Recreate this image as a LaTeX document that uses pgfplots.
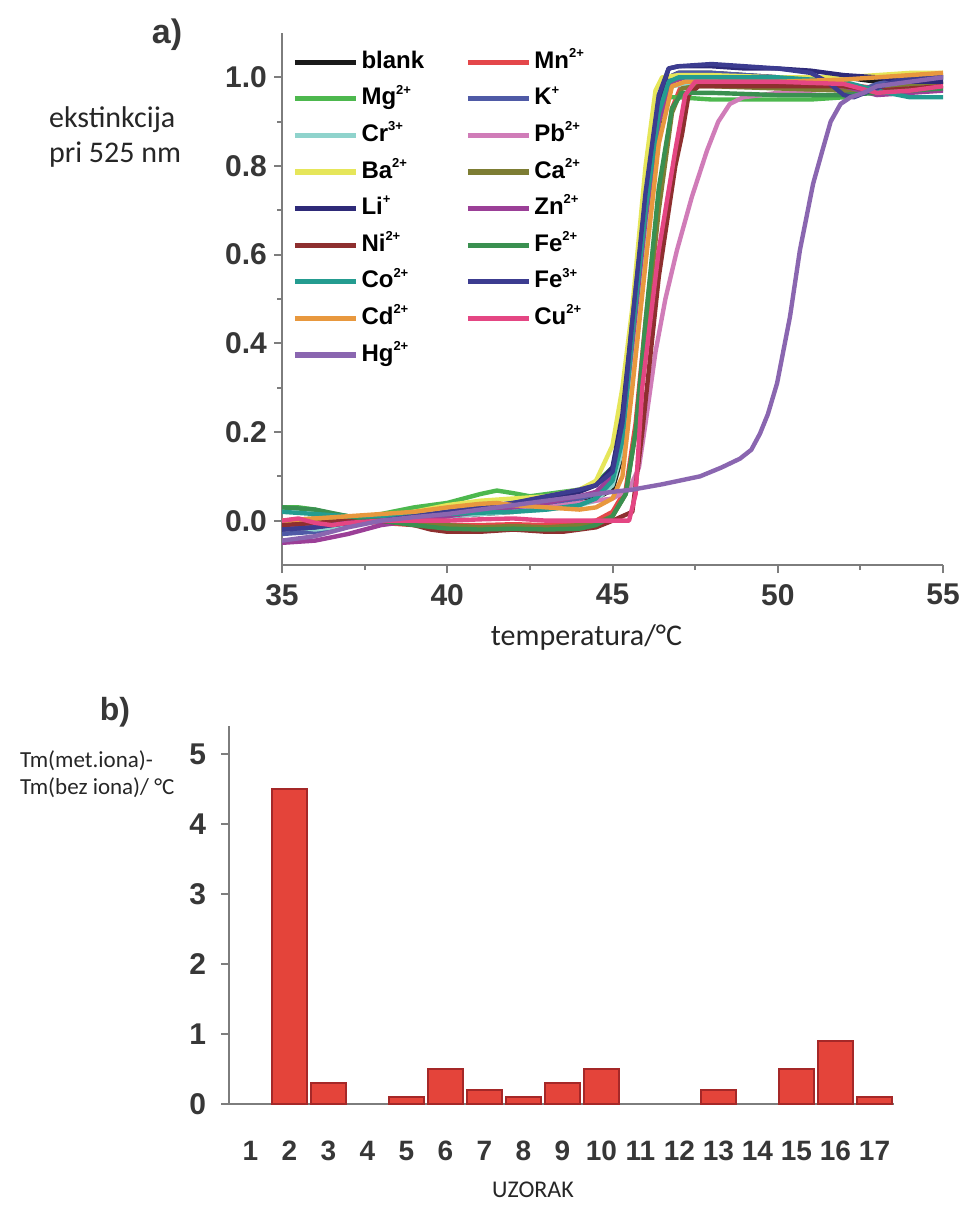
\documentclass[border=0pt]{standalone}
\usepackage{fontspec}
\setmainfont{Liberation Sans}
\newfontfamily\calibri{Carlito}
\usepackage{pgfplots}
\pgfplotsset{compat=1.18}

\definecolor{axgray}{RGB}{125,125,125}
\definecolor{tickc}{RGB}{55,55,55}
\definecolor{cBlank}{RGB}{26,26,26}
\definecolor{cMg}{RGB}{77,184,78}
\definecolor{cCr}{RGB}{143,211,204}
\definecolor{cBa}{RGB}{230,230,90}
\definecolor{cLi}{RGB}{46,42,120}
\definecolor{cNi}{RGB}{142,47,47}
\definecolor{cCo}{RGB}{36,156,144}
\definecolor{cCd}{RGB}{232,152,62}
\definecolor{cHg}{RGB}{138,102,176}
\definecolor{cMn}{RGB}{228,71,74}
\definecolor{cK}{RGB}{79,90,166}
\definecolor{cPb}{RGB}{208,124,184}
\definecolor{cCa}{RGB}{125,125,52}
\definecolor{cZn}{RGB}{155,63,151}
\definecolor{cFeII}{RGB}{58,144,80}
\definecolor{cFeIII}{RGB}{60,60,144}
\definecolor{cCu}{RGB}{228,70,131}
\definecolor{barfill}{RGB}{228,68,58}
\definecolor{bardraw}{RGB}{165,40,40}

% small charge superscript, as in the figure
\newcommand{\ch}[1]{\raisebox{0.85ex}{\fontsize{6.5}{7}\selectfont #1}}

\begin{document}
\begin{tikzpicture}
\path[use as bounding box] (0,0) rectangle (482.5pt,-607.5pt);

% ---- a) melting curves
\begin{axis}[
  at={(141pt,-282.5pt)}, anchor=south west,
  scale only axis, width=330.5pt, height=266pt,
  xmin=35, xmax=55, ymin=-0.1, ymax=1.1,
  xtick={35,40,...,55}, ytick={0,0.2,...,1.0},
  minor x tick num=1, minor y tick num=1,
  axis x line=bottom, axis y line=left,
  axis line style={-, axgray, line width=1.3pt},
  tick style={axgray, line width=1pt},
  tick align=outside,
  major tick length=4pt, minor tick length=2.5pt,
  /pgf/number format/assume math mode=true,
  ticklabel style={font=\fontsize{15}{18}\selectfont\bfseries, text=tickc},
  yticklabel style={/pgf/number format/.cd, fixed, fixed zerofill, precision=1},
  xticklabel style={yshift=-2pt},
  every axis plot/.append style={line width=2.2pt, line join=round},
  legend columns=2,
  legend cell align=left,
  legend image code/.code={\draw[#1, line width=2.6pt] (0pt,0pt) -- (30.5pt,0pt);},
  legend style={draw=none, fill=none, inner sep=0pt,
    at={(axis description cs:0.015,0.974)}, anchor=north west,
    font=\fontsize{12}{14}\selectfont\bfseries,
    row sep=3.3pt,
    nodes={inner sep=1.5pt, text height=9pt, text depth=3pt},
    /tikz/every even column/.append style={column sep=19pt}},
]
% blank
\addplot[cBlank] coordinates {(35,-0.01) (36,-0.005) (37,0.0) (38,0.005) (39,0.005) (40,0.01) (41,0.015) (42,0.02) (43,0.03) (44,0.04) (44.5,0.05) (45,0.07) (45.3,0.15) (45.6,0.35) (46,0.62) (46.4,0.88) (46.7,1.0) (47,1.01) (48,1.01) (50,1.0) (52,1.0) (53,0.99) (54,1.0) (55,1.0)};
\addlegendentry{blank}
% Mn2+
\addplot[cMn] coordinates {(35,0.0) (36,0.0) (37,0.0) (38,-0.005) (39,-0.01) (40,-0.01) (41,-0.01) (42,-0.008) (43,-0.01) (44,-0.005) (44.5,0.0) (45,0.02) (45.4,0.07) (45.7,0.22) (46,0.45) (46.4,0.72) (46.8,0.93) (47.1,0.985) (47.5,0.99) (48,0.99) (50,0.99) (52,0.985) (53,0.975) (54,0.98) (55,0.985)};
\addlegendentry{Mn\ch{2+}}
% Mg2+
\addplot[cMg] coordinates {(35,0.03) (35.5,0.03) (36,0.025) (36.5,0.015) (37,0.01) (37.5,0.008) (38,0.015) (39,0.03) (40,0.04) (40.5,0.05) (41,0.06) (41.5,0.068) (42,0.062) (42.5,0.055) (43,0.06) (44,0.07) (44.5,0.085) (45,0.12) (45.3,0.22) (45.6,0.45) (46,0.75) (46.4,0.93) (46.7,0.955) (47,0.955) (48,0.95) (49,0.95) (50,0.95) (51,0.95) (52,0.955) (53,0.975) (54,0.985) (55,0.99)};
\addlegendentry{Mg\ch{2+}}
% K+
\addplot[cK] coordinates {(35,-0.03) (36,-0.025) (37,-0.01) (38,0.0) (39,0.005) (40,0.015) (41,0.022) (42,0.03) (43,0.04) (44,0.05) (44.5,0.06) (45,0.09) (45.3,0.2) (45.6,0.43) (46,0.72) (46.4,0.94) (46.7,1.0) (47,1.01) (48,1.01) (50,1.0) (51,0.99) (52,0.97) (52.5,0.97) (53,0.985) (54,1.0) (55,1.005)};
\addlegendentry{K\ch{+}}
% Cr3+
\addplot[cCr] coordinates {(35,0.0) (35.5,-0.015) (36,-0.02) (36.5,-0.015) (37,-0.005) (38,0.0) (39,0.005) (40,0.01) (41,0.015) (42,0.02) (43,0.025) (44,0.035) (44.5,0.045) (45,0.08) (45.3,0.16) (45.6,0.38) (46,0.66) (46.4,0.9) (46.8,0.98) (47.2,0.985) (48,0.985) (50,0.98) (52,0.975) (53,0.97) (54,0.975) (55,0.97)};
\addlegendentry{Cr\ch{3+}}
% Pb2+
\addplot[cPb] coordinates {(35,-0.01) (36,-0.01) (37,0.0) (38,0.005) (39,0.01) (40,0.015) (41,0.02) (42,0.025) (43,0.03) (44,0.04) (45,0.05) (45.5,0.07) (45.8,0.12) (46.0,0.22) (46.3,0.38) (46.6,0.5) (46.95,0.61) (47.4,0.73) (47.86,0.835) (48.2,0.9) (48.55,0.94) (48.95,0.955) (49.5,0.96) (50,0.965) (51,0.97) (52,0.975) (53,0.97) (54,0.975) (55,0.98)};
\addlegendentry{Pb\ch{2+}}
% Ba2+
\addplot[cBa] coordinates {(35,0.0) (36,0.0) (37,0.005) (38,0.01) (39,0.02) (40,0.035) (40.5,0.04) (41,0.045) (42,0.05) (43,0.055) (44,0.07) (44.5,0.09) (45,0.17) (45.3,0.3) (45.6,0.48) (46,0.8) (46.3,0.97) (46.5,1.0) (47,1.005) (48,1.005) (50,1.0) (52,1.0) (53,1.005) (54,1.01) (55,1.01)};
\addlegendentry{Ba\ch{2+}}
% Ca2+
\addplot[cCa] coordinates {(35,0.0) (36,0.005) (37,0.01) (38,0.008) (39,0.0) (40,-0.01) (41,-0.015) (42,-0.012) (43,-0.015) (44,-0.01) (44.5,-0.005) (45,0.01) (45.4,0.06) (45.7,0.2) (46,0.42) (46.4,0.7) (46.8,0.92) (47.1,0.975) (47.5,0.98) (48,0.98) (50,0.975) (52,0.97) (53,0.975) (54,0.985) (55,0.99)};
\addlegendentry{Ca\ch{2+}}
% Li+
\addplot[cLi] coordinates {(35,-0.02) (36,-0.015) (37,-0.005) (38,0.0) (39,0.01) (40,0.02) (41,0.03) (42,0.04) (43,0.05) (44,0.065) (44.5,0.08) (45,0.12) (45.3,0.24) (45.6,0.45) (46,0.72) (46.4,0.95) (46.7,1.02) (47,1.025) (48,1.025) (49,1.02) (50,1.02) (51,1.015) (52,1.005) (53,1.0) (54,0.99) (55,0.99)};
\addlegendentry{Li\ch{+}}
% Zn2+
\addplot[cZn] coordinates {(35,-0.05) (36,-0.045) (37,-0.03) (37.5,-0.02) (38,-0.01) (39,0.0) (40,0.01) (41,0.02) (42,0.03) (43,0.04) (44,0.055) (44.5,0.065) (45,0.1) (45.3,0.2) (45.6,0.4) (46,0.68) (46.4,0.9) (46.8,0.99) (47.2,1.0) (48,1.0) (50,0.995) (52,0.98) (53,0.96) (54,0.965) (55,0.97)};
\addlegendentry{Zn\ch{2+}}
% Ni2+
\addplot[cNi] coordinates {(35,-0.01) (36,-0.005) (37,0.0) (38,0.0) (39,-0.01) (39.5,-0.02) (40,-0.025) (41,-0.025) (42,-0.02) (43,-0.025) (43.5,-0.025) (44,-0.02) (44.5,-0.015) (45,0.0) (45.6,0.02) (45.9,0.2) (46.4,0.55) (46.9,0.8) (47.1,0.87) (47.3,0.96) (47.6,0.98) (48,0.98) (50,0.98) (52,0.98) (53,0.97) (54,0.975) (55,0.98)};
\addlegendentry{Ni\ch{2+}}
% Fe2+
\addplot[cFeII] coordinates {(35,0.03) (36,0.025) (37,0.01) (38,0.0) (39,-0.01) (40,-0.018) (41,-0.02) (42,-0.018) (43,-0.02) (44,-0.018) (44.5,-0.01) (45,0.01) (45.4,0.06) (45.7,0.2) (46,0.45) (46.4,0.75) (46.8,0.93) (47.1,0.965) (47.5,0.965) (48,0.965) (50,0.96) (52,0.96) (53,0.965) (54,0.97) (55,0.975)};
\addlegendentry{Fe\ch{2+}}
% Co2+
\addplot[cCo] coordinates {(35,0.02) (36,0.015) (37,0.01) (38,0.01) (39,0.012) (40,0.015) (41,0.018) (42,0.02) (43,0.025) (44,0.035) (44.5,0.05) (45,0.09) (45.3,0.18) (45.6,0.42) (46,0.7) (46.4,0.92) (46.7,0.99) (47,1.0) (48,1.0) (50,1.0) (52,0.99) (53,0.97) (54,0.955) (55,0.955)};
\addlegendentry{Co\ch{2+}}
% Fe3+
\addplot[cFeIII] coordinates {(35,-0.02) (36,-0.015) (37,-0.005) (38,0.0) (39,0.01) (40,0.02) (41,0.03) (42,0.04) (43,0.055) (44,0.07) (44.5,0.08) (45,0.11) (45.3,0.22) (45.6,0.45) (46,0.74) (46.4,0.96) (46.7,1.02) (47,1.025) (48,1.03) (49,1.025) (50,1.02) (51,1.01) (51.5,0.99) (52,0.96) (52.3,0.955) (52.8,0.97) (53.5,0.99) (54,1.0) (55,1.0)};
\addlegendentry{Fe\ch{3+}}
% Cd2+
\addplot[cCd] coordinates {(35,0.0) (36,0.005) (37,0.01) (38,0.015) (39,0.02) (40,0.03) (41,0.038) (41.5,0.04) (42,0.035) (43,0.03) (44,0.025) (44.5,0.03) (45,0.05) (45.3,0.1) (45.6,0.3) (46,0.58) (46.4,0.85) (46.8,0.98) (47.2,0.99) (48,0.99) (50,0.99) (52,0.995) (53,1.0) (54,1.005) (55,1.01)};
\addlegendentry{Cd\ch{2+}}
% Cu2+
\addplot[cCu] coordinates {(35,0.0) (35.5,0.005) (36,-0.005) (36.5,-0.01) (37,-0.005) (38,0.0) (39,0.0) (40,0.0) (41,0.003) (42,0.005) (43,0.0) (44,0.0) (44.5,0.0) (45,0.0) (45.5,0.0) (45.7,0.06) (45.9,0.3) (46.4,0.61) (46.9,0.835) (47.2,0.96) (47.5,0.99) (48,0.99) (50,0.99) (52,0.985) (53,0.965) (54,0.97) (55,0.98)};
\addlegendentry{Cu\ch{2+}}
% Hg2+
\addplot[cHg] coordinates {(35,-0.045) (36,-0.035) (37,-0.015) (38,0.0) (39,0.008) (40,0.015) (41,0.025) (42,0.035) (43,0.045) (44,0.055) (45,0.065) (45.6,0.07) (46.5,0.082) (47.65,0.1) (48.3,0.12) (48.86,0.14) (49.2,0.16) (49.46,0.196) (49.7,0.24) (49.98,0.31) (50.37,0.46) (50.67,0.61) (51.07,0.76) (51.37,0.84) (51.6,0.9) (51.9,0.94) (52.2,0.955) (52.6,0.965) (53,0.98) (54,0.99) (55,1.0)};
\addlegendentry{Hg\ch{2+}}
\end{axis}

% ---- b) Tm shift bars
\begin{axis}[
  at={(114.5pt,-552pt)}, anchor=south west,
  scale only axis, width=332.5pt, height=189pt,
  xmin=0.45, xmax=17.5, ymin=0, ymax=5.4,
  xtick={1,...,17}, ytick={0,...,5},
  axis x line=bottom, axis y line=left,
  axis line style={-, axgray, line width=1.3pt},
  tick style={axgray, line width=1pt},
  tick align=outside,
  x tick style={draw=none},
  major tick length=4pt,
  /pgf/number format/assume math mode=true,
  ticklabel style={text=tickc},
  xticklabel style={font=\fontsize{14}{16}\selectfont\bfseries, yshift=-11pt},
  yticklabel style={font=\fontsize{15}{18}\selectfont\bfseries, xshift=-4pt},
  ybar, bar width=0.9,
  y filter/.expression={y==0 ? nan : y},
  unbounded coords=discard,
]
\addplot[fill=barfill, draw=bardraw, line width=0.6pt] coordinates {
  (1,0) (2,4.5) (3,0.3) (4,0) (5,0.1) (6,0.5) (7,0.2) (8,0.1) (9,0.3)
  (10,0.5) (11,0) (12,0) (13,0.2) (14,0) (15,0.5) (16,0.9) (17,0.1)
};
\end{axis}

% ---- labels
\node[font=\fontsize{17}{20}\selectfont\bfseries, text=tickc] at (83.5pt,-17.5pt) {a)};
\node[font=\fontsize{16}{19}\selectfont\bfseries, text=tickc] at (57.5pt,-356pt) {b)};
\node[font=\calibri\fontsize{15}{18}\selectfont, anchor=base west, text=black!85] at (21pt,-63.5pt) {ekstinkcija};
\node[font=\calibri\fontsize{15}{18}\selectfont, anchor=base west, text=black!85] at (21pt,-81pt) {pri 525 nm};
\node[font=\calibri\fontsize{15}{18}\selectfont, anchor=base, text=black!85] at (293.25pt,-322.5pt) {temperatura/°C};
\node[font=\calibri\fontsize{11.5}{14}\selectfont, anchor=base west, text=black!85] at (6.5pt,-383.5pt) {Tm(met.iona)-};
\node[font=\calibri\fontsize{11.5}{14}\selectfont, anchor=base west, text=black!85] at (6.5pt,-397pt) {Tm(bez iona)/ °C};
\node[font=\calibri\fontsize{12}{14}\selectfont, anchor=base, text=black!85] at (266.5pt,-598.5pt) {UZORAK};
\end{tikzpicture}
\end{document}
